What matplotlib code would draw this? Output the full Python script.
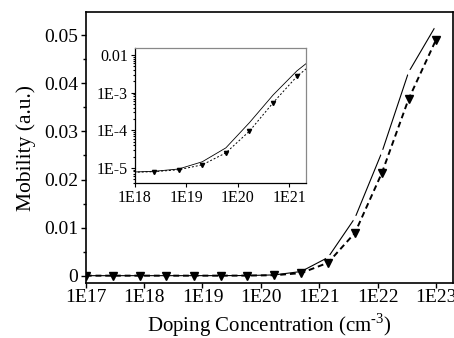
import numpy as np
import matplotlib
matplotlib.use("Agg")
import matplotlib.pyplot as plt
from matplotlib.ticker import FixedLocator, FixedFormatter, LogLocator, MultipleLocator, NullFormatter

plt.rcParams['font.family'] = ['Liberation Serif', 'DejaVu Serif']
plt.rcParams['mathtext.fontset'] = 'custom'
plt.rcParams['mathtext.rm'] = 'Liberation Serif'

# doping concentration (cm^-3), 14 points from 1E17 to 1E23
doping = [1.0e17, 2.9e17, 8.4e17, 2.4e18, 7.1e18, 2.05e19, 5.9e19,
          1.7e20, 4.9e20, 1.42e21, 4.1e21, 1.19e22, 3.4e22, 1.0e23]
# dashed series with triangles
mob_dash = [7.0e-6, 7.3e-6, 7.6e-6, 7.9e-6, 8.9e-6, 1.2e-5, 2.5e-5,
            9.5e-5, 5.4e-4, 2.7e-3, 8.9e-3, 2.14e-2, 3.67e-2, 4.9e-2]
# thin solid series
mob_solid = [7.0e-6, 7.3e-6, 7.7e-6, 8.1e-6, 9.3e-6, 1.45e-5, 3.4e-5,
             1.6e-4, 8.7e-4, 3.8e-3, 1.2e-2, 2.57e-2, 4.23e-2, 5.2e-2]

main_xticks = [1e17, 1e18, 1e19, 1e20, 1e21, 1e22, 1e23]
main_xlabels = ["1E17", "1E18", "1E19", "1E20", "1E21", "1E22", "1E23"]
main_yticks = [0, 0.01, 0.02, 0.03, 0.04, 0.05]
main_ylabels = ["0", "0.01", "0.02", "0.03", "0.04", "0.05"]
ins_xticks = [1e18, 1e19, 1e20, 1e21]
ins_xlabels = ["1E18", "1E19", "1E20", "1E21"]
ins_yticks = [1e-5, 1e-4, 1e-3, 1e-2]
ins_ylabels = ["1E-5", "1E-4", "1E-3", "0.01"]

fig = plt.figure(figsize=(4.54, 3.38), dpi=100)
ax = fig.add_axes([0.189, 0.163, 0.809, 0.801])

ax.plot(doping, mob_solid, color='black', lw=0.8, marker='o', ms=4,
        mfc='white', mec='none', zorder=2)
ax.plot(doping, mob_dash, color='black', lw=1.4, ls=(0, (3, 2)),
        marker='v', ms=6, zorder=3)
ax.set_xscale('log')
ax.set_xlim(1e17, 10**23.295)
ax.set_ylim(-0.0015, 0.0548)
ax.xaxis.set_major_locator(FixedLocator(main_xticks))
ax.xaxis.set_major_formatter(FixedFormatter(main_xlabels))
ax.xaxis.set_minor_locator(LogLocator(base=10, subs=np.arange(2, 10)))
ax.xaxis.set_minor_formatter(NullFormatter())
ax.yaxis.set_major_locator(FixedLocator(main_yticks))
ax.yaxis.set_major_formatter(FixedFormatter(main_ylabels))
ax.yaxis.set_minor_locator(MultipleLocator(0.005))
ax.tick_params(which='both', direction='out', labelsize=14, width=1)
ax.tick_params(which='major', length=3.5)
ax.tick_params(which='minor', length=2)
ax.tick_params(axis='x', pad=1)
ax.tick_params(axis='y', pad=2)
for s in ax.spines.values():
    s.set_linewidth(1.2)
ax.set_xlabel('Doping Concentration (cm$^{\\mathregular{\u20103}}$)', fontsize=15, labelpad=4)
ax.set_ylabel('Mobility (a.u.)', fontsize=15.5, labelpad=6)

ins = fig.add_axes([0.297, 0.459, 0.377, 0.399])
ins.plot(doping, mob_solid, color='black', lw=0.6)
ins.plot(doping, mob_dash, color='black', lw=0.7, ls=(0, (2, 2)),
         marker='v', ms=3)
ins.set_xscale('log')
ins.set_yscale('log')
ins.set_xlim(1e18, 10**21.33)
ins.set_ylim(10**-5.4, 10**-1.81)
ins.xaxis.set_major_locator(FixedLocator(ins_xticks))
ins.xaxis.set_major_formatter(FixedFormatter(ins_xlabels))
ins.yaxis.set_major_locator(FixedLocator(ins_yticks))
ins.yaxis.set_major_formatter(FixedFormatter(ins_ylabels))
ins.xaxis.set_minor_locator(LogLocator(base=10, subs=np.arange(2, 10)))
ins.yaxis.set_minor_locator(LogLocator(base=10, subs=np.arange(2, 10)))
ins.xaxis.set_minor_formatter(NullFormatter())
ins.yaxis.set_minor_formatter(NullFormatter())
ins.tick_params(which='both', direction='out', labelsize=11.5, width=0.8, pad=2)
ins.tick_params(which='major', length=3)
ins.tick_params(which='minor', length=1.5)
for s in ins.spines.values():
    s.set_color('#888888')
    s.set_linewidth(0.9)
ins.spines['left'].set_color('black')
ins.spines['bottom'].set_color('black')

fig.savefig('out.png', dpi=100)
